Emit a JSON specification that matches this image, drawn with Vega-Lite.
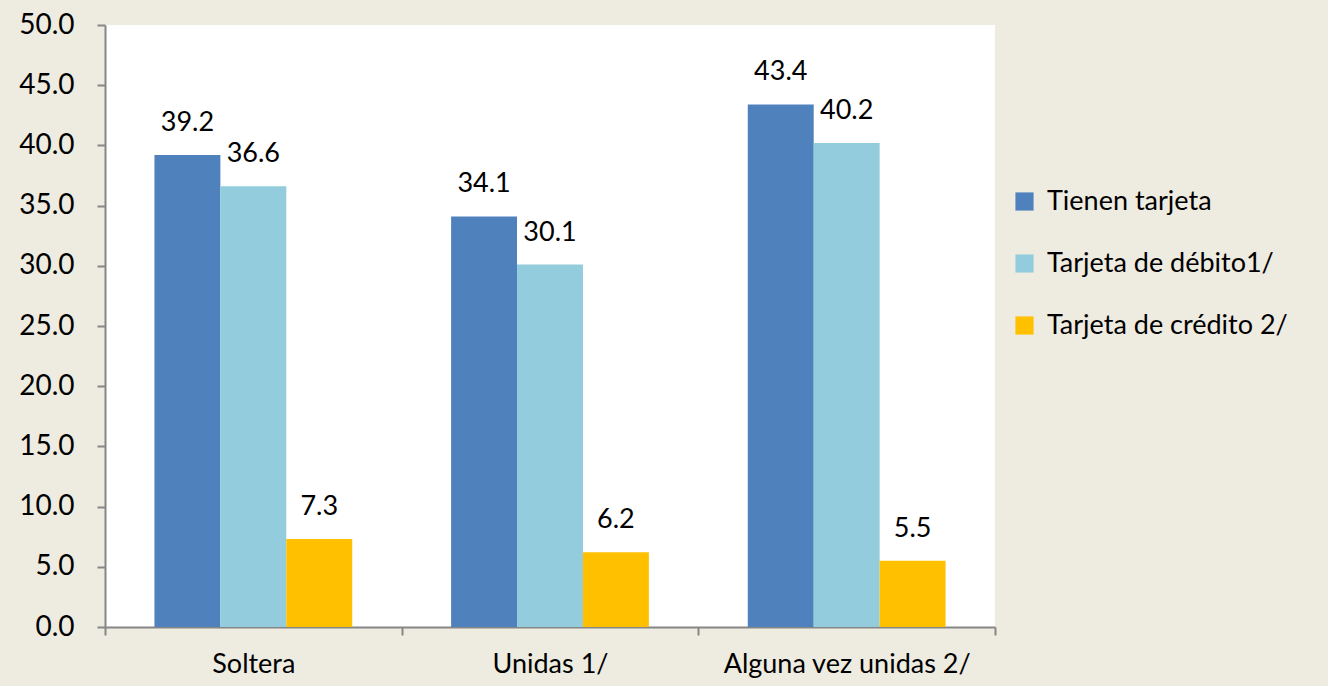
{
  "$schema": "https://vega.github.io/schema/vega-lite/v6.json",
  "width": 890,
  "height": 602,
  "autosize": {"type": "none"},
  "padding": {"left": 105, "top": 25, "right": 333, "bottom": 59},
  "background": "#EEEBE0",
  "view": {"fill": "white", "stroke": null},
  "config": {"font": "Lato", "axis": {"labelFont": "Lato", "labelColor": "black"}},
  "data": {
    "values": [
      {"grupo": "Soltera", "serie": "Tienen tarjeta", "valor": 39.2},
      {"grupo": "Soltera", "serie": "Tarjeta de débito1/", "valor": 36.6},
      {"grupo": "Soltera", "serie": "Tarjeta de crédito 2/", "valor": 7.3},
      {"grupo": "Unidas 1/", "serie": "Tienen tarjeta", "valor": 34.1},
      {"grupo": "Unidas 1/", "serie": "Tarjeta de débito1/", "valor": 30.1},
      {"grupo": "Unidas 1/", "serie": "Tarjeta de crédito 2/", "valor": 6.2},
      {"grupo": "Alguna vez unidas 2/", "serie": "Tienen tarjeta", "valor": 43.4},
      {"grupo": "Alguna vez unidas 2/", "serie": "Tarjeta de débito1/", "valor": 40.2},
      {"grupo": "Alguna vez unidas 2/", "serie": "Tarjeta de crédito 2/", "valor": 5.5}
    ]
  },
  "encoding": {
    "x": {
      "field": "grupo", "type": "nominal", "sort": null,
      "scale": {"paddingInner": 0, "paddingOuter": 0},
      "axis": {
        "title": null, "labelAngle": 0, "labelFontSize": 27, "labelPadding": 16, "labelLimit": 400,
        "tickBand": "extent", "tickSize": 8, "tickColor": "#868686", "tickWidth": 2,
        "domainColor": "#868686", "domainWidth": 2
      }
    },
    "xOffset": {
      "field": "serie", "type": "nominal", "sort": null,
      "scale": {"paddingInner": 0, "paddingOuter": 0.75}
    },
    "y": {
      "field": "valor", "type": "quantitative",
      "scale": {"domain": [0, 50], "nice": false},
      "axis": {
        "title": null, "values": [0, 5, 10, 15, 20, 25, 30, 35, 40, 45, 50],
        "format": ".1f", "grid": false, "labelFontSize": 28, "labelPadding": 23,
        "tickSize": 8, "tickColor": "#868686", "tickWidth": 2,
        "domainColor": "#868686", "domainWidth": 2
      }
    }
  },
  "layer": [
    {
      "mark": {"type": "bar"},
      "encoding": {
        "color": {
          "field": "serie", "type": "nominal", "sort": null,
          "scale": {
            "domain": ["Tienen tarjeta", "Tarjeta de débito1/", "Tarjeta de crédito 2/"],
            "range": ["#4F81BD", "#93CDDD", "#FFC000"]
          },
          "legend": {
            "title": null, "orient": "none", "legendX": 906, "legendY": 163,
            "symbolType": "square", "symbolSize": 330, "symbolStrokeWidth": 0,
            "labelFontSize": 27, "labelFont": "Lato", "labelColor": "black",
            "rowPadding": 34, "labelOffset": 9, "labelLimit": 400
          }
        }
      }
    },
    {
      "mark": {"type": "text", "baseline": "alphabetic", "dy": -24, "fontSize": 27, "color": "black"},
      "encoding": {
        "text": {"field": "valor", "type": "quantitative", "format": ".1f"}
      }
    }
  ]
}
